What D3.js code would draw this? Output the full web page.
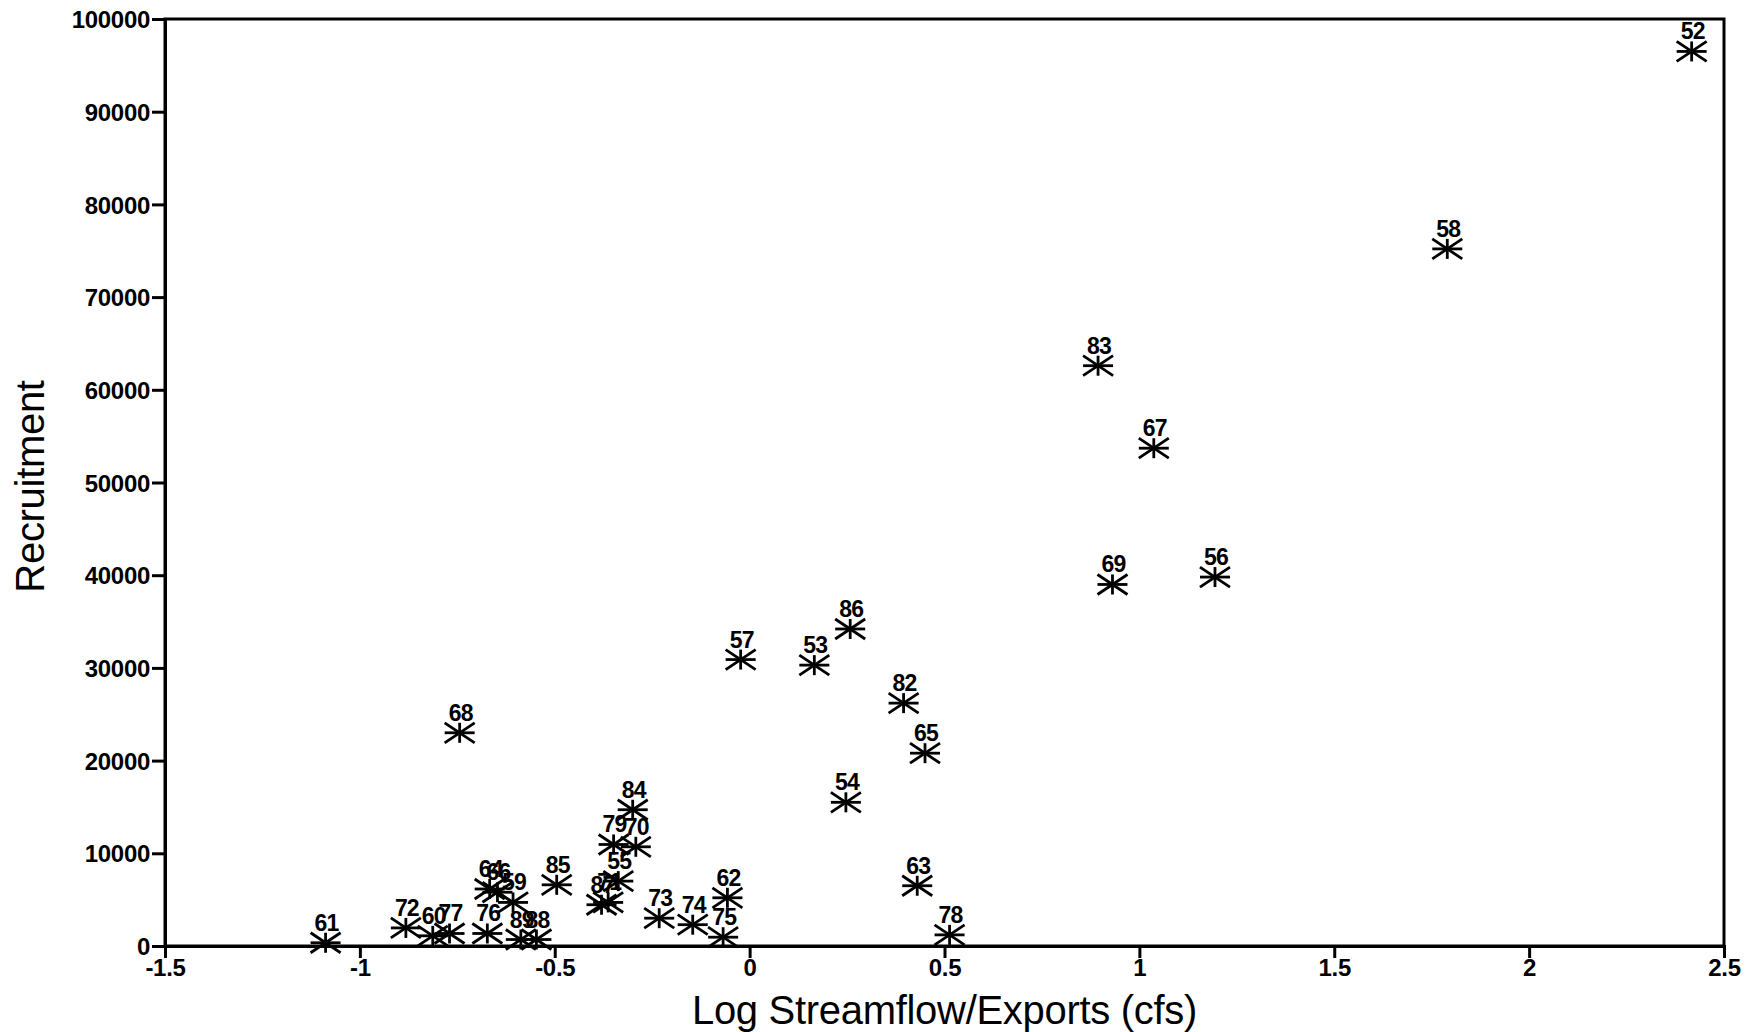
<!DOCTYPE html>
<html>
<head>
<meta charset="utf-8">
<script src="https://cdn.jsdelivr.net/npm/d3@7/dist/d3.min.js"></script>
<style>
  html, body { margin: 0; padding: 0; background: #fff; }
  svg { display: block; }
</style>
</head>
<body>
<svg id="chart" width="1749" height="1032"></svg>
<script>
// ---- data ----
const years = ["52","58","83","67","69","56","86","57","53","82","65","68","54","84","79","70","55","87","71","85","62","73","74","75","63","78","61","72","60","77","76","64","66","59","89","88"];
const logFlow = [2.417,1.790,0.894,1.037,0.931,1.194,0.258,-0.023,0.166,0.395,0.450,-0.744,0.247,-0.300,-0.349,-0.292,-0.337,-0.380,-0.363,-0.495,-0.057,-0.232,-0.146,-0.068,0.430,0.513,-1.088,-0.882,-0.813,-0.770,-0.673,-0.667,-0.647,-0.607,-0.587,-0.547];
const recruitment = [96500,75200,62600,53700,39000,39800,34200,30900,30300,26200,20800,23000,15500,14700,10950,10700,7000,4450,4700,6600,5200,3000,2300,950,6500,1200,350,1950,1100,1350,1350,6150,5800,4700,700,700];
const xTicks = [-1.5,-1,-0.5,0,0.5,1,1.5,2,2.5];
const yTicks = [0,10000,20000,30000,40000,50000,60000,70000,80000,90000,100000];
const xTitle = "Log Streamflow/Exports (cfs)";
const yTitle = "Recruitment";

// ---- layout ----
const pLeft = 165, pRight = 1724, pTop = 19, pBottom = 946;
const svg = d3.select("#chart");
const x = d3.scaleLinear().domain([-1.5, 2.5]).range([pLeft, pRight]);
const y = d3.scaleLinear().domain([0, 100000]).range([pBottom, pTop]);
const font = "'Liberation Sans', Arial, Helvetica, sans-serif";

// frame
svg.append("rect")
  .attr("x", pLeft).attr("y", pTop)
  .attr("width", pRight - pLeft).attr("height", pBottom - pTop)
  .attr("fill", "none").attr("stroke", "#000").attr("stroke-width", 3);

// y axis
const gy = svg.append("g")
  .attr("transform", `translate(${pLeft},0)`)
  .call(d3.axisLeft(y).tickValues(yTicks).tickSize(13).tickPadding(2).tickFormat(d => String(d)));
gy.select(".domain").attr("stroke-width", 3);
gy.selectAll(".tick line").attr("stroke-width", 3);
gy.selectAll(".tick text")
  .attr("font-family", font).attr("font-weight", "bold")
  .attr("font-size", 24).attr("letter-spacing", "-0.3")
  .attr("fill", "#000").attr("dy", "0.36em");

// x axis
const gx = svg.append("g")
  .attr("transform", `translate(0,${pBottom})`)
  .call(d3.axisBottom(x).tickValues(xTicks).tickSize(12).tickPadding(1).tickFormat(d => String(d)));
gx.select(".domain").attr("stroke-width", 3);
gx.selectAll(".tick line").attr("stroke-width", 3);
gx.selectAll(".tick text")
  .attr("font-family", font).attr("font-weight", "bold")
  .attr("font-size", 24).attr("letter-spacing", "-0.3")
  .attr("fill", "#000");

// axis titles
svg.append("text")
  .attr("x", (pLeft + pRight) / 2).attr("y", 1024)
  .attr("text-anchor", "middle")
  .attr("font-family", font).attr("font-size", 40).attr("letter-spacing", "-0.3")
  .attr("fill", "#000").text(xTitle);

svg.append("text")
  .attr("transform", `translate(44,${(pTop + pBottom) / 2 + 4}) rotate(-90)`)
  .attr("text-anchor", "middle")
  .attr("font-family", font).attr("font-size", 40).attr("letter-spacing", "-0.3")
  .attr("fill", "#000").text(yTitle);

// points: 8-spoke asterisk markers
const hw = 15, hh = 10;
const pts = years.map((yr, i) => ({ yr, xv: logFlow[i], yv: recruitment[i] }));
const g = svg.append("g");
const mk = g.selectAll("g.pt").data(pts).enter().append("g")
  .attr("class", "pt")
  .attr("transform", d => `translate(${x(d.xv)},${y(d.yv)})`);
const spokes = [[-hw,0,hw,0],[0,-hh,0,hh],[-hw,-hh,hw,hh],[-hw,hh,hw,-hh]];
spokes.forEach(s => {
  mk.append("line")
    .attr("x1", s[0]).attr("y1", s[1]).attr("x2", s[2]).attr("y2", s[3])
    .attr("stroke", "#000").attr("stroke-width", 2.8);
});
mk.append("text")
  .attr("x", 1).attr("y", -12)
  .attr("text-anchor", "middle")
  .attr("font-family", font).attr("font-weight", "bold")
  .attr("font-size", 23).attr("letter-spacing", "-0.8")
  .attr("fill", "#000")
  .text(d => d.yr);
</script>
</body>
</html>
